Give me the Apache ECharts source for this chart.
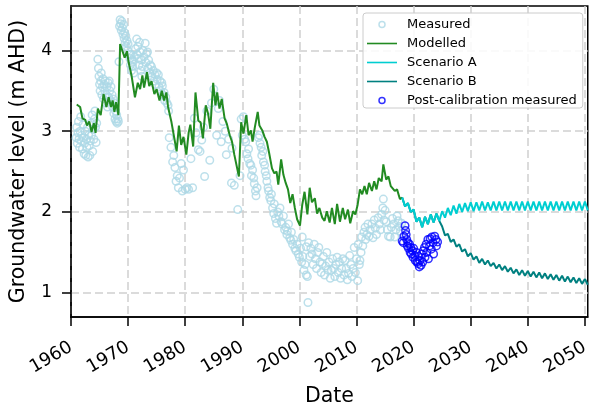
<!DOCTYPE html>
<html>
<head>
<meta charset="utf-8">
<script src="https://cdn.jsdelivr.net/npm/echarts@6/dist/echarts.min.js"></script>
<style>
  html, body { margin: 0; padding: 0; background: #fff; }
  #main { width: 592px; height: 412px; }
</style>
</head>
<body>
<div id="main"></div>
<script>
// tick positions
var xTicks = [1960, 1970, 1980, 1990, 2000, 2010, 2020, 2030, 2040, 2050];
var yTicks = [1, 2, 3, 4];

// observed bore levels [year, m AHD]
var measured = [
  [1960.9,2.92],[1961.0,3.05],[1961.1,2.85],[1961.2,2.98],[1961.3,3.12],[1961.4,2.9],[1961.5,2.8],[1961.6,3.0],
  [1961.7,3.18],[1961.8,2.88],[1961.9,2.95],[1962.0,2.78],[1962.1,3.08],[1962.2,2.92],[1962.3,2.72],[1962.4,2.85],
  [1962.5,3.0],[1962.6,2.7],[1962.7,2.9],[1962.8,2.8],[1962.9,3.05],[1963.0,2.68],[1963.1,2.95],[1963.2,2.82],
  [1963.3,2.7],[1963.4,2.88],[1963.5,3.1],[1963.6,2.95],[1963.7,3.2],[1963.8,2.75],[1963.9,3.02],[1964.0,2.9],
  [1964.1,3.15],[1964.2,3.25],[1964.3,3.05],[1964.4,2.86],[1964.5,3.1],
  [1964.7,3.89],[1964.8,3.78],[1964.9,3.68],[1965.0,3.58],[1965.1,3.5],[1965.2,3.62],[1965.3,3.72],[1965.4,3.45],
  [1965.5,3.55],[1965.6,3.65],[1965.7,3.4],[1965.8,3.58],[1965.9,3.5],[1966.0,3.62],[1966.1,3.35],[1966.2,3.45],
  [1966.3,3.55],[1966.4,3.3],[1966.5,3.6],[1966.6,3.42],[1966.7,3.62],[1966.8,3.5],[1966.9,3.38],[1967.0,3.55],
  [1967.2,3.45],[1967.3,3.3],[1967.4,3.4],[1967.5,3.22],[1967.6,3.35],[1967.7,3.15],[1967.8,3.25],[1967.9,3.12],
  [1968.0,3.2],[1968.1,3.1],[1968.2,3.15],[1968.3,3.12],
  [1968.4,3.86],[1968.5,4.3],[1968.6,4.38],[1968.7,4.33],[1968.8,4.25],[1968.9,4.36],[1969.0,4.28],[1969.1,4.2],
  [1969.2,4.32],[1969.3,4.15],[1969.4,4.22],[1969.5,4.1],[1969.6,4.18],[1969.7,4.05],[1969.8,4.12],[1969.9,4.0],
  [1970.0,4.08],[1970.2,3.95],
  [1970.3,3.9],[1970.4,3.82],[1970.5,3.95],[1970.6,3.75],[1970.7,3.88],[1970.8,3.8],[1970.9,3.86],[1971.0,3.72],
  [1971.1,3.92],[1971.3,4.02],[1971.5,4.14],[1971.6,3.95],[1971.7,4.05],[1971.8,3.9],[1971.9,3.82],[1972.0,4.1],
  [1972.1,3.98],[1972.2,3.75],[1972.3,3.88],[1972.4,3.68],[1972.5,3.8],[1972.6,4.0],[1972.8,3.92],[1973.0,4.09],
  [1973.1,3.85],[1973.2,3.96],[1973.4,3.98],[1973.5,3.78],[1973.6,3.88],[1973.8,3.72],[1973.9,3.82],[1974.1,3.8],
  [1974.2,3.68],[1974.4,3.75],[1974.5,3.62],[1974.7,3.7],[1974.8,3.58],[1975.0,3.72],[1975.1,3.64],[1975.3,3.7],
  [1975.4,3.55],[1975.6,3.62],[1975.7,3.5],[1975.9,3.6],[1976.0,3.56],[1976.1,3.45],[1976.3,3.48],[1976.4,3.38],
  [1976.6,3.42],[1976.8,3.35],[1977.0,3.32],[1977.1,3.25],
  [1977.2,2.92],[1977.5,2.8],[1977.8,2.62],[1978.0,2.7],[1978.2,2.55],[1978.4,2.38],[1978.6,2.45],[1978.8,2.3],
  [1979.0,2.42],[1979.3,2.6],[1979.5,2.26],[1979.7,2.52],[1980.0,2.28],[1980.3,2.3],[1980.6,2.28],
  [1981.0,2.66],[1981.3,2.3],[1981.6,3.16],[1981.9,2.98],[1982.3,2.77],[1982.6,2.75],[1982.9,2.89],[1983.2,3.05],
  [1983.4,2.44],[1983.8,3.25],[1984.3,2.64],[1984.6,3.35],[1985.0,3.52],[1985.5,2.95],[1985.8,3.28],[1986.0,3.38],
  [1986.3,2.87],[1986.6,3.12],[1987.0,3.0],[1987.2,2.71],[1987.6,2.9],[1988.1,2.36],[1988.2,2.79],[1988.6,2.33],
  [1989.2,2.03],[1989.6,2.45],
  [1989.8,3.15],[1990.0,2.95],[1990.2,3.18],[1990.4,2.9],[1990.6,2.87],[1990.8,2.72],[1991.0,2.66],[1991.1,2.78],
  [1991.3,2.6],[1991.5,2.58],[1991.6,2.45],[1991.8,2.52],[1992.0,2.42],[1992.1,2.35],[1992.3,2.26],[1992.4,2.2],
  [1992.6,2.3],[1992.8,2.92],[1993.0,2.95],[1993.1,2.85],[1993.3,2.8],[1993.4,2.7],[1993.6,2.75],[1993.7,2.62],
  [1993.9,2.58],[1994.0,2.5],[1994.2,2.45],[1994.3,2.38],[1994.5,2.3],[1994.6,2.26],[1994.8,2.18],[1995.0,2.14],
  [1995.1,2.22],[1995.3,2.05],[1995.5,1.98],[1995.6,2.1],[1995.8,1.92],[1996.0,1.86],[1996.2,2.0],
  [1996.4,1.95],[1996.6,2.05],[1996.8,1.88],[1997.0,1.85],[1997.2,1.95],[1997.4,1.78],[1997.6,1.81],[1997.8,1.72],
  [1997.9,1.76],[1998.1,1.85],[1998.3,1.68],[1998.5,1.65],[1998.6,1.75],[1998.8,1.6],[1999.0,1.66],[1999.2,1.55],
  [1999.4,1.52],[1999.6,1.6],[1999.8,1.48],[2000.0,1.44],[2000.2,1.55],[2000.4,1.38],[2000.6,1.45],[2000.8,1.28],
  [2001.0,1.35],[2001.2,1.22],[2001.4,1.2],[2001.5,0.88],[2000.5,1.69],[2001.2,1.57],[2001.6,1.62],
  [2001.8,1.45],[2002.0,1.55],[2002.2,1.48],[2002.4,1.35],[2002.6,1.6],[2002.8,1.42],[2003.0,1.3],[2003.2,1.5],
  [2003.4,1.56],[2003.6,1.38],[2003.8,1.25],[2004.0,1.36],[2004.2,1.45],[2004.4,1.22],[2004.6,1.33],[2004.8,1.5],
  [2005.0,1.28],[2005.2,1.38],[2005.4,1.18],[2005.6,1.28],[2005.8,1.42],[2006.0,1.3],[2006.2,1.2],[2006.4,1.35],
  [2006.6,1.44],[2006.8,1.25],[2007.0,1.38],[2007.2,1.18],[2007.4,1.3],[2007.6,1.42],[2007.8,1.22],[2008.0,1.4],
  [2008.2,1.3],[2008.4,1.16],[2008.6,1.24],[2008.8,1.46],[2009.0,1.35],[2009.2,1.2],[2009.4,1.3],[2009.6,1.56],
  [2009.8,1.25],[2010.0,1.42],[2010.2,1.15],
  [2010.3,1.6],[2010.5,1.35],[2010.6,1.4],[2010.8,1.5],[2010.9,1.69],[2011.1,1.58],[2011.3,1.75],[2011.5,1.81],
  [2011.6,1.66],[2011.8,1.72],[2012.0,1.85],[2012.2,1.7],[2012.4,1.78],[2012.7,1.85],[2012.9,1.68],[2013.1,1.9],
  [2013.3,1.8],[2013.5,1.72],[2013.8,1.93],[2014.0,1.85],[2014.2,1.78],[2014.4,1.97],[2014.6,2.05],[2014.7,2.16],
  [2014.8,1.9],[2015.0,2.02],[2015.2,1.88],[2015.4,1.78],[2015.6,1.7],[2015.9,1.69],[2016.1,1.81],[2016.3,1.92],
  [2016.5,1.85],[2016.7,1.69],[2016.9,1.78],[2017.1,1.95],[2017.3,1.89],[2017.5,1.82],[2017.7,1.76],[2017.9,1.86]
];

// calibrated model run
var modelled = [
  [1961.0,3.33],[1961.6,3.30],[1962.0,3.16],[1962.5,3.14],[1962.8,3.07],[1963.2,3.12],[1963.6,2.99],[1964.0,3.10],
  [1964.3,2.98],[1964.7,3.28],[1965.2,3.20],[1965.7,3.46],[1966.2,3.30],[1966.6,3.42],[1967.0,3.30],[1967.3,3.38],
  [1967.6,3.24],[1967.9,3.36],[1968.3,3.20],[1968.6,4.08],[1969.4,3.91],[1969.8,3.99],[1970.1,3.85],[1970.6,3.69],
  [1971.2,3.42],[1971.7,3.60],[1972.1,3.52],[1972.5,3.69],[1972.8,3.54],[1973.3,3.73],[1973.7,3.56],[1974.1,3.62],
  [1974.6,3.46],[1975.0,3.52],[1975.5,3.38],[1975.9,3.50],[1976.3,3.38],[1976.7,3.48],[1977.0,3.30],[1977.6,3.11],
  [1978.1,2.91],[1978.5,2.75],[1978.9,3.07],[1979.3,2.83],[1979.7,2.93],[1980.2,2.71],[1980.6,2.98],[1980.9,3.08],
  [1981.4,2.81],[1981.8,3.48],[1982.3,3.13],[1982.7,3.11],[1983.1,2.91],[1983.6,3.32],[1984.0,3.22],[1984.4,3.03],
  [1984.9,3.60],[1985.3,3.32],[1985.6,3.48],[1986.0,3.28],[1986.4,3.40],[1986.9,3.16],[1987.3,3.09],[1987.8,2.95],
  [1988.2,2.87],[1988.6,2.71],[1989.4,2.44],[1989.8,3.11],[1990.2,2.97],[1990.7,3.20],[1991.1,2.95],[1991.5,3.01],
  [1991.8,2.87],[1992.2,3.05],[1992.7,3.24],[1993.0,3.07],[1993.5,3.01],[1993.9,2.93],[1994.3,2.87],[1994.7,2.73],
  [1995.2,2.54],[1995.6,2.48],[1996.0,2.50],[1996.3,2.34],[1996.8,2.65],[1997.2,2.46],[1997.6,2.36],[1998.0,2.28],
  [1998.4,2.11],[1998.8,2.22],[1999.2,2.05],[1999.6,1.91],[2000.1,1.83],[2000.5,2.09],[2000.9,2.25],[2001.4,1.97],
  [2001.8,2.30],[2002.2,2.12],[2002.7,2.17],[2003.1,1.98],[2003.5,2.05],[2004.0,1.93],[2004.4,1.89],[2004.8,2.01],
  [2005.3,1.87],[2005.7,2.05],[2006.2,1.85],[2006.6,2.10],[2007.1,1.88],[2007.6,2.05],[2008.0,1.91],[2008.5,2.03],
  [2008.9,1.86],[2009.4,2.01],[2009.8,1.97],[2010.2,2.09],[2010.6,2.28],[2011.0,2.22],[2011.4,2.32],[2011.8,2.22],
  [2012.2,2.36],[2012.7,2.26],[2013.1,2.38],[2013.5,2.28],[2013.9,2.42],[2014.4,2.38],[2014.7,2.59],[2015.2,2.40],
  [2015.6,2.44],[2016.0,2.32],[2016.3,2.34],[2016.7,2.26],[2017.1,2.28],[2017.6,2.16],[2018.0,2.18]
];

// both scenarios follow the same path until they split in 2024
var scenarioShared = [
  [2018.0,2.18],[2018.5,2.07],[2019.0,2.11],[2019.5,2.00],[2020.0,2.03],[2020.5,1.88],[2021.0,1.93],[2021.5,1.81],
  [2022.0,1.94],[2022.5,1.85],[2023.0,1.97],[2023.5,1.87],[2024.0,1.98],[2024.5,1.89]
];

var scenarioAAfter = [
  [2025.0,2.01],[2025.5,1.93],[2026.0,2.05],[2026.5,1.96],[2027.0,2.08],[2027.5,1.98],[2028.0,2.10],[2028.5,2.00],
  [2029.0,2.11],[2029.5,2.01],[2030.0,2.12],[2030.5,2.01],[2031.0,2.12],[2031.5,2.02],[2032.0,2.13],[2032.5,2.02],
  [2033.0,2.12],[2033.5,2.02],[2034.0,2.13],[2034.5,2.02],[2035.0,2.13],[2035.5,2.02],[2036.0,2.13],[2036.5,2.02],
  [2037.0,2.13],[2037.5,2.02],[2038.0,2.13],[2038.5,2.02],[2039.0,2.13],[2039.5,2.02],[2040.0,2.13],[2040.5,2.02],
  [2041.0,2.13],[2041.5,2.02],[2042.0,2.13],[2042.5,2.02],[2043.0,2.13],[2043.5,2.02],[2044.0,2.13],[2044.5,2.02],
  [2045.0,2.13],[2045.5,2.02],[2046.0,2.13],[2046.5,2.02],[2047.0,2.13],[2047.5,2.02],[2048.0,2.13],[2048.5,2.02],
  [2049.0,2.13],[2049.5,2.02],[2050.0,2.13],[2050.5,2.02]
];

var scenarioBAfter = [
  [2025.0,1.82],[2025.5,1.71],[2026.0,1.73],[2026.5,1.63],[2027.0,1.66],[2027.5,1.57],[2028.0,1.60],[2028.5,1.51],
  [2029.0,1.54],[2029.5,1.45],[2030.0,1.49],[2030.5,1.41],[2031.0,1.45],[2031.5,1.37],[2032.0,1.42],[2032.5,1.35],
  [2033.0,1.40],[2033.5,1.33],[2034.0,1.37],[2034.5,1.30],[2035.0,1.35],[2035.5,1.28],[2036.0,1.33],[2036.5,1.26],
  [2037.0,1.31],[2037.5,1.24],[2038.0,1.29],[2038.5,1.22],[2039.0,1.28],[2039.5,1.21],[2040.0,1.27],[2040.5,1.20],
  [2041.0,1.26],[2041.5,1.19],[2042.0,1.25],[2042.5,1.18],[2043.0,1.24],[2043.5,1.17],[2044.0,1.23],[2044.5,1.16],
  [2045.0,1.22],[2045.5,1.15],[2046.0,1.21],[2046.5,1.14],[2047.0,1.20],[2047.5,1.13],[2048.0,1.19],[2048.5,1.12],
  [2049.0,1.18],[2049.5,1.11],[2050.0,1.17],[2050.5,1.10]
];

// readings taken after calibration
var postCal = [
  [2018.0,1.64],[2018.2,1.62],[2018.3,1.7],[2018.5,1.83],[2018.6,1.77],[2018.7,1.72],[2018.8,1.66],[2018.9,1.58],
  [2019.0,1.62],[2019.1,1.55],[2019.3,1.6],[2019.4,1.5],[2019.5,1.56],[2019.6,1.48],[2019.8,1.52],[2019.9,1.44],
  [2020.0,1.55],[2020.2,1.46],[2020.3,1.4],[2020.5,1.5],[2020.6,1.38],[2020.8,1.36],[2020.9,1.45],[2021.0,1.32],
  [2021.1,1.4],[2021.3,1.34],[2021.4,1.48],[2021.6,1.38],[2021.7,1.52],[2021.9,1.56],[2022.0,1.44],[2022.2,1.6],
  [2022.3,1.5],[2022.5,1.66],[2022.6,1.42],[2022.8,1.58],[2022.9,1.67],[2023.1,1.54],[2023.2,1.69],[2023.4,1.62],
  [2023.5,1.48],[2023.7,1.7],[2023.9,1.66],[2024.0,1.58],[2024.2,1.63]
];

var chart = echarts.init(document.getElementById('main'), null, { renderer: 'canvas' });

var FONT = 'DejaVu Sans';
var lineIcon = 'path://M0,0H30V1.6H0Z';

var option = {
  animation: false,
  backgroundColor: '#fff',
  textStyle: { fontFamily: FONT },
  grid: {
    left: 70, right: 1.5, top: 6, bottom: 92,
    show: true, borderColor: '#000', borderWidth: 1.5
  },
  legend: {
    orient: 'vertical',
    left: 363, top: 13,
    itemWidth: 30, itemHeight: 6, itemGap: 6,
    padding: [5, 6, 1, 4],
    backgroundColor: 'rgba(255,255,255,0.85)',
    borderColor: '#cccccc', borderWidth: 1, borderRadius: 3,
    itemStyle: { borderWidth: 0 },
    textStyle: { fontSize: 13, lineHeight: 13, color: '#000', fontFamily: FONT, padding: [0, 0, 0, 5] },
    data: [
      { name: 'Measured', icon: 'circle', itemStyle: { color: '#fff', borderColor: '#add8e6', borderWidth: 1.5 } },
      { name: 'Modelled', icon: lineIcon },
      { name: 'Scenario A', icon: lineIcon },
      { name: 'Scenario B', icon: lineIcon },
      { name: 'Post-calibration measured', icon: 'circle', itemStyle: { color: '#fff', borderColor: '#0000ff', borderWidth: 1.5 } }
    ]
  },
  xAxis: {
    type: 'value',
    min: 1960, max: 2050.5, interval: 10,
    name: 'Date', nameLocation: 'middle', nameGap: 69,
    nameTextStyle: { fontSize: 20.5, color: '#000', fontFamily: FONT },
    axisLine: { onZero: false, lineStyle: { color: '#000', width: 1.5 } },
    axisTick: { customValues: xTicks, length: 9, lineStyle: { color: '#000', width: 1.5 } },
    axisLabel: {
      customValues: xTicks, rotate: 30, margin: 29,
      fontSize: 18, color: '#000', fontFamily: FONT,
      formatter: function (v) { return String(v); }
    },
    splitLine: { show: true, lineStyle: { color: '#cfcfcf', width: 1.5, type: [8, 4] } }
  },
  yAxis: {
    type: 'value',
    min: 0.7, max: 4.55, minInterval: 1, maxInterval: 1,
    name: 'Groundwater level (m AHD)', nameLocation: 'middle', nameGap: 42,
    nameTextStyle: { fontSize: 20.5, color: '#000', fontFamily: FONT },
    axisLine: { show: true, onZero: false, lineStyle: { color: '#000', width: 1.5 } },
    axisTick: { show: true, customValues: yTicks, length: 9, lineStyle: { color: '#000', width: 1.5 } },
    axisLabel: { customValues: yTicks, margin: 19, fontSize: 17, color: '#000', fontFamily: FONT },
    splitLine: { show: true, lineStyle: { color: '#cfcfcf', width: 1.5, type: [8, 4] } }
  },
  series: [
    {
      name: 'Measured', type: 'scatter', data: measured,
      symbol: 'circle', symbolSize: 7.5,
      itemStyle: { color: 'rgba(0,0,0,0)', borderColor: '#add8e6', borderWidth: 1.5 }
    },
    {
      name: 'Modelled', type: 'line', data: modelled, color: '#228b22',
      showSymbol: false, symbol: 'none', lineStyle: { color: '#228b22', width: 2 }
    },
    {
      name: 'Scenario B', type: 'line', data: scenarioShared.concat(scenarioBAfter), color: '#008080',
      showSymbol: false, symbol: 'none', lineStyle: { color: '#008080', width: 2 }
    },
    {
      name: 'Scenario A', type: 'line', data: scenarioShared.concat(scenarioAAfter), color: '#00ced1',
      showSymbol: false, symbol: 'none', lineStyle: { color: '#00ced1', width: 2 }
    },
    {
      name: 'Post-calibration measured', type: 'scatter', data: postCal,
      symbol: 'circle', symbolSize: 7.5,
      itemStyle: { color: 'rgba(0,0,0,0)', borderColor: '#0000ff', borderWidth: 1.5 }
    }
  ]
};

chart.setOption(option);
</script>
</body>
</html>
